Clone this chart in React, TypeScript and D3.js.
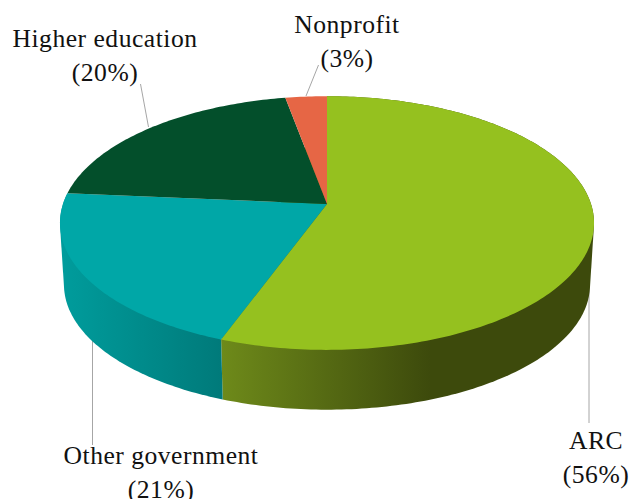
import React from "react";
import * as d3 from "d3";

const categories = ["ARC", "Other government", "Higher education", "Nonprofit"];
const shares = [55.6, 20.8, 20.7, 2.9];
const topColors = ["#95c11f", "#00a7a7", "#034f2b", "#e66645"];
const sideStops = [
  ["#6e8a1a", "#3d4a0c"],
  ["#009c9c", "#007a7a"],
];
const labels = [
  { lines: ["ARC", "(56%)"], x: 596, y: 449 },
  { lines: ["Other government", "(21%)"], x: 161, y: 464 },
  { lines: ["Higher education", "(20%)"], x: 105, y: 47 },
  { lines: ["Nonprofit", "(3%)"], x: 347, y: 33 },
];
const leaders: [number, number, number, number][] = [
  [589, 282, 589, 423],
  [92.5, 335, 92.5, 445],
  [140.5, 84, 148.5, 127],
  [318.5, 65, 306, 96],
];

const cx = 327;
const cyTop = 204;
const depthY = 62;
const A = 264;
const B = 124;
const k = 0.15;
const bottomScale = 0.985;

// Perspective projection of a point on the unit circle
function project(angle: number, level: 0 | 1, r = 1): [number, number] {
  const u = r * Math.sin(angle);
  const v = -r * Math.cos(angle);
  const s = level ? bottomScale : 1;
  const w = 1 - k * v;
  return [cx + (s * A * u) / w, cyTop + level * depthY + (s * B * v) / w];
}

function arcPoints(a0: number, a1: number, level: 0 | 1) {
  const n = Math.max(2, Math.ceil((a1 - a0) * 60));
  return d3.range(n + 1).map((i) => project(a0 + ((a1 - a0) * i) / n, level));
}

export default function App() {
  const arcs = d3.pie<number>().sort(null)(shares);
  const line = d3.line();
  const xGrad = [
    [221, 430],
    [62, 222],
  ];
  return (
    <svg
      width={630}
      height={499}
      style={{ position: "absolute", left: 0, top: 0, background: "#fff" }}
    >
      <defs>
        {sideStops.map((stops, i) => (
          <linearGradient
            key={i}
            id={`side${i}`}
            gradientUnits="userSpaceOnUse"
            x1={xGrad[i][0]}
            x2={xGrad[i][1]}
            y1={0}
            y2={0}
          >
            <stop offset="0" stopColor={stops[0]} />
            <stop offset="1" stopColor={stops[1]} />
          </linearGradient>
        ))}
      </defs>
      {leaders.map((l, i) => (
        <line key={i} x1={l[0]} y1={l[1]} x2={l[2]} y2={l[3]} stroke="#a6a6a6" strokeWidth={1} />
      ))}
      {arcs.slice(0, 2).map((a, i) => {
        const pts = [...arcPoints(a.startAngle, a.endAngle, 0), ...arcPoints(a.startAngle, a.endAngle, 1)];
        const hull = d3.polygonHull(pts as [number, number][])!;
        return <path key={i} d={line(hull) + "Z"} fill={`url(#side${i})`} />;
      })}
      {arcs.map((a, i) => (
        <path
          key={categories[i]}
          d={line([[cx, cyTop], ...arcPoints(a.startAngle, a.endAngle, 0)]) + "Z"}
          fill={topColors[i]}
        />
      ))}
      {labels.map((l) => (
        <text
          key={l.lines[0]}
          textAnchor="middle"
          fontFamily="'Liberation Serif', serif"
          fontSize={25.6}
          letterSpacing={0.5}
          fill="#111"
        >
          {l.lines.map((t, i) => (
            <tspan key={t} x={l.x} y={l.y + i * 33.5}>
              {t}
            </tspan>
          ))}
        </text>
      ))}
    </svg>
  );
}
